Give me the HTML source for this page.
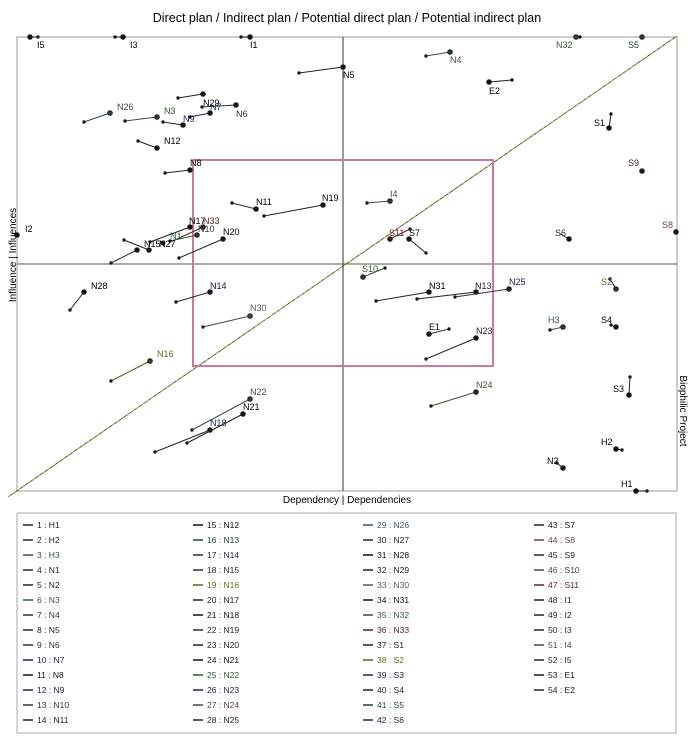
<!DOCTYPE html>
<html><head><meta charset="utf-8"><style>
body{margin:0;background:#fff;}
svg{display:block;font-family:"Liberation Sans",Arial,sans-serif;}
</style></head><body>
<svg width="692" height="742" viewBox="0 0 692 742" xmlns="http://www.w3.org/2000/svg">
<text x="347" y="22" font-size="12.5" text-anchor="middle">Direct plan / Indirect plan / Potential direct plan / Potential indirect plan</text>
<rect x="17" y="37" width="660" height="454" fill="none" stroke="#aaa" stroke-width="1.2"/>
<line x1="343" y1="37" x2="343" y2="491" stroke="#333" stroke-width="1"/>
<line x1="17" y1="264" x2="677" y2="264" stroke="#555" stroke-width="1"/>
<line x1="8" y1="497" x2="677" y2="36" stroke="#443" stroke-width="0.9"/>
<line x1="8" y1="497" x2="677" y2="36" stroke="#dd0" stroke-width="0.5" stroke-dasharray="3 3"/>
<rect x="193" y="160" width="300" height="206" fill="none" stroke="#d0789a" stroke-width="2"/>
<text transform="translate(16,255) rotate(-90)" font-size="10" text-anchor="middle">Influence | Influences</text>
<text transform="translate(680,411) rotate(90)" font-size="10" text-anchor="middle">Biophilic Project</text>
<text x="347" y="503" font-size="10" text-anchor="middle">Dependency | Dependencies</text>
<g stroke-width="1">
<g stroke="#222" fill="#111">
<line x1="38" y1="37" x2="30" y2="37"/><circle cx="30" cy="37" r="2.3"/><circle cx="38" cy="37" r="1.2"/>
<line x1="115" y1="37" x2="123" y2="37"/><circle cx="123" cy="37" r="2.3"/><circle cx="115" cy="37" r="1.2"/>
<line x1="241" y1="37" x2="250" y2="37"/><circle cx="250" cy="37" r="2.3"/><circle cx="241" cy="37" r="1.2"/>
<line x1="299" y1="73" x2="343" y2="67"/><circle cx="343" cy="67" r="2.3"/><circle cx="299" cy="73" r="1.2"/>
<line x1="178" y1="98" x2="203" y2="94"/><circle cx="203" cy="94" r="2.3"/><circle cx="178" cy="98" r="1.2"/>
<line x1="202" y1="107" x2="236" y2="105" stroke="#234"/><circle cx="236" cy="105" r="2.3"/><circle cx="202" cy="107" r="1.2"/>
<line x1="190" y1="117" x2="210" y2="113" stroke="#224"/><circle cx="210" cy="113" r="2.3"/><circle cx="190" cy="117" r="1.2"/>
<line x1="163" y1="122" x2="183" y2="125" stroke="#223"/><circle cx="183" cy="125" r="2.3"/><circle cx="163" cy="122" r="1.2"/>
<line x1="84" y1="122" x2="110" y2="113" stroke="#345"/><circle cx="110" cy="113" r="2.3" fill="#345"/><circle cx="84" cy="122" r="1.2"/>
<line x1="125" y1="121" x2="157" y2="117" stroke="#353"/><circle cx="157" cy="117" r="2.3" fill="#242"/><circle cx="125" cy="121" r="1.2"/>
<line x1="138" y1="141" x2="157" y2="148"/><circle cx="157" cy="148" r="2.3"/><circle cx="138" cy="141" r="1.2"/>
<line x1="165" y1="173" x2="190" y2="170"/><circle cx="190" cy="170" r="2.3"/><circle cx="165" cy="173" r="1.2"/>
<line x1="232" y1="203" x2="256" y2="209"/><circle cx="256" cy="209" r="2.3"/><circle cx="232" cy="203" r="1.2"/>
<line x1="264" y1="216" x2="323" y2="205"/><circle cx="323" cy="205" r="2.3"/><circle cx="264" cy="216" r="1.2"/>
<circle cx="17" cy="235" r="2.3"/>
<line x1="150" y1="242" x2="190" y2="227"/><circle cx="190" cy="227" r="2.3"/><circle cx="150" cy="242" r="1.2"/>
<line x1="175" y1="240" x2="203" y2="227" stroke="#522"/><circle cx="203" cy="227" r="2.3" fill="#411"/>
<line x1="170" y1="241" x2="197" y2="235" stroke="#353"/><circle cx="197" cy="235" r="2.3" fill="#242"/><circle cx="170" cy="241" r="1.2"/>
<line x1="124" y1="240" x2="149" y2="250"/><circle cx="149" cy="250" r="2.3"/><circle cx="124" cy="240" r="1.2"/>
<line x1="111" y1="263" x2="137" y2="250"/><circle cx="137" cy="250" r="2.3"/><circle cx="111" cy="263" r="1.2"/>
<circle cx="163" cy="243" r="2"/>
<line x1="179" y1="258" x2="223" y2="239"/><circle cx="223" cy="239" r="2.3"/><circle cx="179" cy="258" r="1.2"/>
<line x1="426" y1="56" x2="450" y2="52" stroke="#353"/><circle cx="450" cy="52" r="2.3" fill="#242"/><circle cx="426" cy="56" r="1.2"/>
<line x1="576" y1="37" x2="580" y2="37"/><circle cx="576" cy="37" r="2.3" fill="#252"/><circle cx="580" cy="37" r="1.2"/>
<circle cx="642" cy="37" r="2.3" fill="#243"/>
<line x1="489" y1="82" x2="512" y2="80"/><circle cx="489" cy="82" r="2.3"/><circle cx="512" cy="80" r="1.2"/>
<line x1="611" y1="114" x2="609" y2="128"/><circle cx="609" cy="128" r="2.3"/><circle cx="611" cy="114" r="1.2"/>
<circle cx="642" cy="171" r="2.3" fill="#311"/>
<line x1="676" y1="229" x2="676" y2="232"/><circle cx="676" cy="232" r="2.3" fill="#311"/>
<line x1="560" y1="234" x2="569" y2="239" stroke="#224"/><circle cx="569" cy="239" r="2.3"/>
<line x1="367" y1="203" x2="390" y2="201" stroke="#353"/><circle cx="390" cy="201" r="2.3" fill="#242"/><circle cx="367" cy="203" r="1.2"/>
<line x1="410" y1="229" x2="390" y2="239" stroke="#522"/><circle cx="390" cy="239" r="2.3" fill="#411"/><circle cx="410" cy="229" r="1.2"/>
<line x1="426" y1="253" x2="409" y2="239"/><circle cx="409" cy="239" r="2.3"/><circle cx="426" cy="253" r="1.2"/>
<line x1="70" y1="310" x2="84" y2="292"/><circle cx="84" cy="292" r="2.3"/><circle cx="70" cy="310" r="1.2"/>
<line x1="176" y1="302" x2="210" y2="292" stroke="#324"/><circle cx="210" cy="292" r="2.3" fill="#213"/><circle cx="176" cy="302" r="1.2"/>
<line x1="203" y1="327" x2="250" y2="316" stroke="#544"/><circle cx="250" cy="316" r="2.3" fill="#543"/><circle cx="203" cy="327" r="1.2"/>
<line x1="111" y1="381" x2="150" y2="361" stroke="#552"/><circle cx="150" cy="361" r="2.3" fill="#441"/><circle cx="111" cy="381" r="1.2"/>
<line x1="192" y1="430" x2="250" y2="399" stroke="#353"/><circle cx="250" cy="399" r="2.3" fill="#242"/><circle cx="192" cy="430" r="1.2"/>
<line x1="187" y1="443" x2="243" y2="414"/><circle cx="243" cy="414" r="2.3"/><circle cx="187" cy="443" r="1.2"/>
<line x1="155" y1="452" x2="210" y2="430" stroke="#223"/><circle cx="210" cy="430" r="2.3"/><circle cx="155" cy="452" r="1.2"/>
<line x1="385" y1="268" x2="363" y2="277" stroke="#353"/><circle cx="363" cy="277" r="2.3" fill="#242"/><circle cx="385" cy="268" r="1.2"/>
<line x1="376" y1="301" x2="429" y2="292"/><circle cx="429" cy="292" r="2.3"/><circle cx="376" cy="301" r="1.2"/>
<line x1="417" y1="299" x2="476" y2="292"/><circle cx="476" cy="292" r="2.3"/><circle cx="417" cy="299" r="1.2"/>
<line x1="455" y1="297" x2="509" y2="289" stroke="#334"/><circle cx="509" cy="289" r="2.3" fill="#223"/><circle cx="455" cy="297" r="1.2"/>
<line x1="449" y1="329" x2="429" y2="334" stroke="#432"/><circle cx="429" cy="334" r="2.3" fill="#211"/><circle cx="449" cy="329" r="1.2"/>
<line x1="426" y1="359" x2="476" y2="338" stroke="#224"/><circle cx="476" cy="338" r="2.3"/><circle cx="426" cy="359" r="1.2"/>
<line x1="431" y1="406" x2="476" y2="392" stroke="#543"/><circle cx="476" cy="392" r="2.3" fill="#321"/><circle cx="431" cy="406" r="1.2"/>
<line x1="550" y1="330" x2="563" y2="327" stroke="#353"/><circle cx="563" cy="327" r="2.3" fill="#242"/><circle cx="550" cy="330" r="1.2"/>
<line x1="610" y1="279" x2="616" y2="289"/><circle cx="616" cy="289" r="2.3" fill="#242"/><circle cx="610" cy="279" r="1.2"/>
<line x1="611" y1="325" x2="616" y2="327"/><circle cx="616" cy="327" r="2.3"/><circle cx="611" cy="325" r="1.2"/>
<line x1="630" y1="377" x2="629" y2="395" stroke="#224"/><circle cx="629" cy="395" r="2.3"/><circle cx="630" cy="377" r="1.2"/>
<line x1="616" y1="449" x2="622" y2="450"/><circle cx="616" cy="449" r="2.3"/><circle cx="622" cy="450" r="1.2"/>
<line x1="557" y1="463" x2="563" y2="468"/><circle cx="563" cy="468" r="2.3"/><circle cx="557" cy="463" r="1.2"/>
<line x1="636" y1="491" x2="647" y2="491"/><circle cx="636" cy="491" r="2.3"/><circle cx="647" cy="491" r="1.2"/>
</g>
</g>
<g font-size="9">
<text x="37" y="48">I5</text><text x="130" y="48">I3</text><text x="250" y="48">I1</text>
<text x="343" y="78">N5</text>
<text x="203" y="106">N29</text><text x="210" y="110" fill="#234">N7</text><text x="236" y="117" fill="#234">N6</text>
<text x="183" y="122" fill="#224">N9</text>
<text x="117" y="110" fill="#345">N26</text><text x="164" y="114" fill="#353">N3</text>
<text x="164" y="144">N12</text><text x="190" y="166">N8</text>
<text x="256" y="205">N11</text><text x="322" y="201">N19</text>
<text x="25" y="232">I2</text>
<text x="189" y="224">N17</text><text x="203" y="224" fill="#522">N33</text><text x="198" y="232" fill="#333">N10</text>
<text x="170" y="239" fill="#353">N1</text><text x="144" y="247">N15</text><text x="159" y="247">N27</text>
<text x="223" y="235">N20</text>
<text x="450" y="63" fill="#353">N4</text><text x="556" y="48" fill="#353">N32</text><text x="628" y="48" fill="#243">S5</text>
<text x="489" y="94">E2</text><text x="594" y="126">S1</text><text x="628" y="166" fill="#422">S9</text>
<text x="662" y="228" fill="#644">S8</text><text x="555" y="236" fill="#224">S6</text>
<text x="390" y="197" fill="#353">I4</text><text x="389" y="236" fill="#622">S11</text><text x="409" y="236">S7</text>
<text x="91" y="289">N28</text><text x="210" y="289" fill="#213">N14</text><text x="250" y="311" fill="#655">N30</text>
<text x="157" y="357" fill="#662">N16</text><text x="250" y="395" fill="#353">N22</text><text x="243" y="410">N21</text><text x="210" y="426" fill="#224">N18</text>
<text x="362" y="272" fill="#353">S10</text><text x="429" y="289">N31</text><text x="475" y="289" fill="#224">N13</text><text x="509" y="285" fill="#224">N25</text>
<text x="429" y="330">E1</text><text x="476" y="334" fill="#224">N23</text><text x="476" y="388" fill="#543">N24</text>
<text x="548" y="323" fill="#353">H3</text><text x="601" y="285" fill="#662">S2</text><text x="601" y="323">S4</text>
<text x="613" y="392">S3</text><text x="601" y="445">H2</text><text x="547" y="464">N2</text><text x="621" y="487">H1</text>
</g>
<rect x="17" y="513" width="659" height="220" fill="none" stroke="#aaa" stroke-width="1"/>
<g font-size="8.5" id="leg"></g>
<script>
var items=[["1 : H1","#222"],["2 : H2","#222"],["3 : H3","#353"],["4 : N1","#222"],["5 : N2","#222"],["6 : N3","#353"],["7 : N4","#234"],["8 : N5","#222"],["9 : N6","#234"],["10 : N7","#224"],["11 : N8","#111"],["12 : N9","#224"],["13 : N10","#333"],["14 : N11","#222"],
["15 : N12","#111"],["16 : N13","#243"],["17 : N14","#324"],["18 : N15","#322"],["19 : N16","#662"],["20 : N17","#222"],["21 : N18","#111"],["22 : N19","#322"],["23 : N20","#222"],["24 : N21","#111"],["25 : N22","#353"],["26 : N23","#224"],["27 : N24","#543"],["28 : N25","#223"],
["29 : N26","#456"],["30 : N27","#222"],["31 : N28","#111"],["32 : N29","#222"],["33 : N30","#655"],["34 : N31","#111"],["35 : N32","#353"],["36 : N33","#522"],["37 : S1","#222"],["38 : S2","#662"],["39 : S3","#224"],["40 : S4","#222"],["41 : S5","#243"],["42 : S6","#224"],
["43 : S7","#222"],["44 : S8","#644"],["45 : S9","#322"],["46 : S10","#353"],["47 : S11","#622"],["48 : I1","#222"],["49 : I2","#222"],["50 : I3","#224"],["51 : I4","#353"],["52 : I5","#222"],["53 : E1","#211"],["54 : E2","#222"]];
var cols=[23,193,363,534],NS="http://www.w3.org/2000/svg",g=document.getElementById("leg");
items.forEach(function(it,i){var c=Math.floor(i/14),r=i%14,x=cols[c],y=525+r*15;
var l=document.createElementNS(NS,"line");l.setAttribute("x1",x);l.setAttribute("x2",x+10);l.setAttribute("y1",y);l.setAttribute("y2",y);l.setAttribute("stroke",it[1]);l.setAttribute("stroke-width","1.5");g.appendChild(l);
var t=document.createElementNS(NS,"text");t.setAttribute("x",x+14);t.setAttribute("y",y+3);t.setAttribute("fill",it[1]);t.textContent=it[0];g.appendChild(t);});
</script>
</svg>
</body></html>
